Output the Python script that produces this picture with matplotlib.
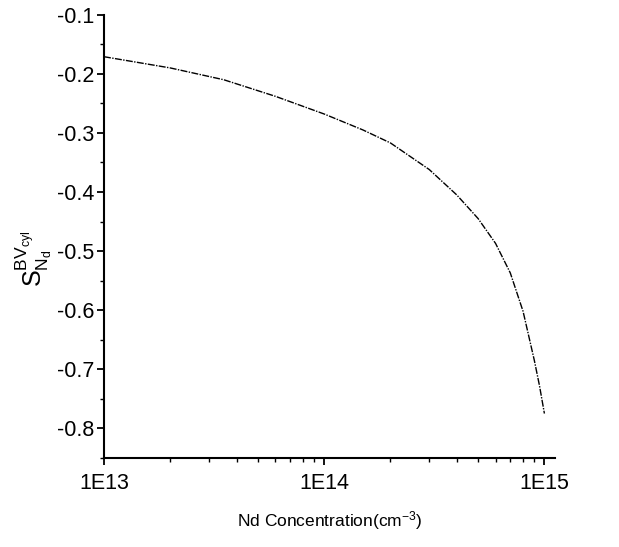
import numpy as np
import matplotlib.pyplot as plt
from matplotlib.ticker import FixedLocator, FixedFormatter, LogLocator, MultipleLocator, NullFormatter

# Daten
nd = [1e13, 2e13, 3.5e13, 6e13, 1e14, 1.5e14, 2e14, 3e14, 4e14,
      5e14, 6e14, 7e14, 8e14, 9e14, 9.5e14, 1e15]
sens = [-0.171, -0.190, -0.210, -0.238, -0.268, -0.295, -0.317, -0.362, -0.405,
        -0.445, -0.487, -0.537, -0.602, -0.685, -0.728, -0.775]
xtick_vals = [1e13, 1e14, 1e15]
xtick_labels = ['1E13', '1E14', '1E15']

plt.rcParams['font.family'] = ['Liberation Sans', 'DejaVu Sans']
plt.rcParams['mathtext.fontset'] = 'custom'
plt.rcParams['mathtext.rm'] = 'Liberation Sans'
plt.rcParams['mathtext.it'] = 'Liberation Sans'

fig = plt.figure(figsize=(6.19, 5.47), dpi=100)
ax = fig.add_axes([0.168, 0.163, 0.729, 0.81])

ax.plot(nd, sens, color='black', linewidth=1.0, dashes=(5, 1, 1, 1))

ax.set_xscale('log')
ax.set_xlim(1e13, 1.12e15)
ax.set_ylim(-0.85, -0.1)

ax.xaxis.set_major_locator(FixedLocator(xtick_vals))
ax.xaxis.set_major_formatter(FixedFormatter(xtick_labels))
ax.xaxis.set_minor_locator(LogLocator(base=10, subs=np.arange(2, 10)))
ax.xaxis.set_minor_formatter(NullFormatter())
ax.yaxis.set_major_locator(MultipleLocator(0.1))
ax.yaxis.set_minor_locator(MultipleLocator(0.05))
ax.yaxis.set_major_formatter(plt.FuncFormatter(lambda v, p: f'{v:.1f}'))

for s in ['top', 'right']:
    ax.spines[s].set_visible(False)
for s in ['left', 'bottom']:
    ax.spines[s].set_linewidth(1.5)

ax.tick_params(which='major', direction='out', length=5, width=1.3, labelsize=15.5)
ax.tick_params(which='minor', direction='out', length=3, width=1.0)
ax.tick_params(axis='x', pad=6)
ax.tick_params(axis='y', pad=2)

ax.set_xlabel('Nd Concentration(cm$^{-3}$)', fontsize=12.5, labelpad=11)
ax.set_ylabel(r'$\mathrm{S}_{\mathrm{N_d}}^{\mathrm{BV_{cyl}}}$', fontsize=18)
ax.yaxis.set_label_coords(-0.11, 0.45)

fig.savefig('out.png', dpi=100)
